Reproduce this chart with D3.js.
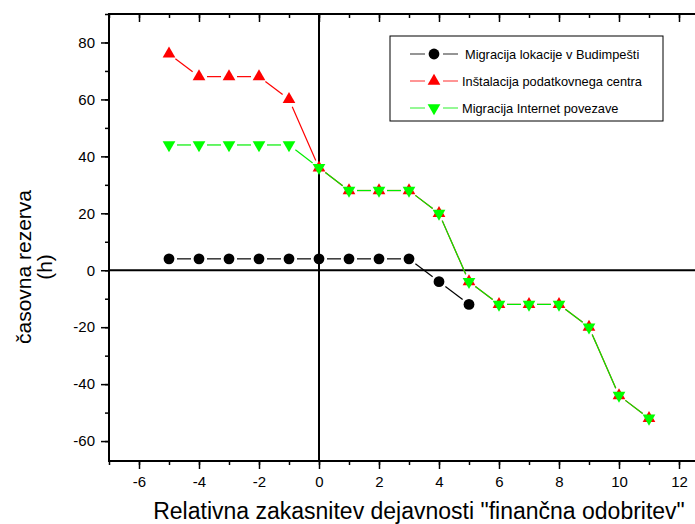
<!DOCTYPE html>
<html>
<head>
<meta charset="utf-8">
<script src="https://cdn.jsdelivr.net/npm/d3@7"></script>
<style>
  body { margin: 0; background: #fff; }
  svg text { font-family: "Liberation Sans", Arial, sans-serif; }
</style>
</head>
<body>
<div id="root"></div>
<script>
const width = 695;
const height = 524;

// data
const xBudapest = [-5, -4, -3, -2, -1, 0, 1, 2, 3, 4, 5];
const yBudapest = [4, 4, 4, 4, 4, 4, 4, 4, 4, -4, -12];
const xCenter = [-5, -4, -3, -2, -1, 0, 1, 2, 3, 4, 5, 6, 7, 8, 9, 10, 11];
const yCenter = [76, 68, 68, 68, 60, 36, 28, 28, 28, 20, -4, -12, -12, -12, -20, -44, -52];
const xInternet = [-5, -4, -3, -2, -1, 0, 1, 2, 3, 4, 5, 6, 7, 8, 9, 10, 11];
const yInternet = [44, 44, 44, 44, 44, 36, 28, 28, 28, 20, -4, -12, -12, -12, -20, -44, -52];
const xTicks = [-6, -4, -2, 0, 2, 4, 6, 8, 10, 12];
const yTicks = [-60, -40, -20, 0, 20, 40, 60, 80];
const seriesNames = ['Migracija lokacije v Budimpešti', 'Inštalacija podatkovnega centra', 'Migracija Internet povezave'];

const series = [
  { name: seriesNames[0], xs: xBudapest, ys: yBudapest, line: '#000', fill: '#000', shape: 'circle' },
  { name: seriesNames[1], xs: xCenter, ys: yCenter, line: '#ff0000', fill: '#ff0000', shape: 'up' },
  { name: seriesNames[2], xs: xInternet, ys: yInternet, line: '#00ee00', fill: '#00ff00', shape: 'down' }
];

const plotLeft = 109, plotRight = 694, plotTop = 14, plotBottom = 461;
const x = d3.scaleLinear().domain([-7, 12.5]).range([plotLeft, plotRight]);
const y = d3.scaleLinear().domain([-67, 90]).range([plotBottom, plotTop]);
const plain = (d) => String(d);

const svg = d3.select('#root').append('svg')
  .attr('width', width)
  .attr('height', height);

// zero lines
svg.append('line')
  .attr('x1', x(0)).attr('x2', x(0)).attr('y1', plotTop).attr('y2', plotBottom)
  .attr('stroke', '#000').attr('stroke-width', 2);
svg.append('line')
  .attr('x1', plotLeft).attr('x2', plotRight + 1).attr('y1', y(0)).attr('y2', y(0))
  .attr('stroke', '#000').attr('stroke-width', 2);

// axes
const xMinor = d3.range(-7, 13, 1);
const yMinor = d3.range(-60, 91, 10);

svg.append('g').attr('transform', `translate(0,${plotBottom})`)
  .call(d3.axisBottom(x).tickValues(xMinor).tickSize(4).tickFormat(''));
svg.append('g').attr('transform', `translate(0,${plotBottom})`)
  .call(d3.axisBottom(x).tickValues(xTicks).tickSize(8).tickPadding(7).tickFormat(plain));
svg.append('g').attr('transform', `translate(0,${plotTop})`)
  .call(d3.axisBottom(x).tickValues(xMinor).tickSize(4).tickFormat(''));
svg.append('g').attr('transform', `translate(0,${plotTop})`)
  .call(d3.axisBottom(x).tickValues(xTicks).tickSize(8).tickFormat(''));
svg.append('g').attr('transform', `translate(${plotLeft},0)`)
  .call(d3.axisLeft(y).tickValues(yMinor).tickSize(4).tickFormat(''));
svg.append('g').attr('transform', `translate(${plotLeft},0)`)
  .call(d3.axisLeft(y).tickValues(yTicks).tickSize(8).tickPadding(6).tickFormat(plain));

svg.selectAll('.domain').remove();
svg.selectAll('.tick line').attr('stroke', '#000').attr('stroke-width', 1.5);
svg.selectAll('.tick text').attr('font-size', '15px').attr('fill', '#000')
  .attr('font-family', '"Liberation Sans", Arial, sans-serif');

// frame lines
svg.append('line').attr('x1', plotLeft).attr('x2', plotRight + 1).attr('y1', plotTop).attr('y2', plotTop)
  .attr('stroke', '#000').attr('stroke-width', 2);
svg.append('line').attr('x1', plotLeft).attr('x2', plotRight + 1).attr('y1', plotBottom).attr('y2', plotBottom)
  .attr('stroke', '#000').attr('stroke-width', 2);
svg.append('line').attr('x1', plotLeft).attr('x2', plotLeft).attr('y1', plotTop - 1).attr('y2', plotBottom + 1)
  .attr('stroke', '#000').attr('stroke-width', 2);

// axis titles
svg.append('text')
  .attr('transform', 'translate(419,519)')
  .attr('text-anchor', 'middle')
  .attr('font-size', '23px')
  .text('Relativna zakasnitev dejavnosti "finančna odobritev"');

const yt = svg.append('text')
  .attr('transform', 'translate(31,267) rotate(-90)')
  .attr('text-anchor', 'middle')
  .attr('font-size', '21px');
yt.append('tspan').attr('x', 0).attr('dy', 0).text('časovna rezerva');
yt.append('tspan').attr('x', 0).attr('dy', 21).text('(h)');

// markers
function marker(g, shape, fill) {
  if (shape === 'circle') {
    g.append('circle').attr('r', 5.4).attr('fill', fill);
  } else {
    const sym = d3.symbol().type(d3.symbolTriangle).size(70);
    g.append('path').attr('d', sym)
      .attr('transform', shape === 'down' ? 'rotate(180)' : null)
      .attr('fill', fill);
  }
}

const gap = 8;
series.forEach((s) => {
  const pts = s.xs.map((xv, i) => [x(xv), y(s.ys[i])]);
  const g = svg.append('g');
  for (let i = 0; i < pts.length - 1; i++) {
    const [x1, y1] = pts[i];
    const [x2, y2] = pts[i + 1];
    const len = Math.hypot(x2 - x1, y2 - y1);
    const ux = (x2 - x1) / len, uy = (y2 - y1) / len;
    g.append('line')
      .attr('x1', x1 + ux * gap).attr('y1', y1 + uy * gap)
      .attr('x2', x2 - ux * gap).attr('y2', y2 - uy * gap)
      .attr('stroke', s.line).attr('stroke-width', 1.2);
  }
});
series.forEach((s) => {
  s.xs.forEach((xv, i) => {
    const m = svg.append('g').attr('transform', `translate(${x(xv)},${y(s.ys[i])})`);
    marker(m, s.shape, s.fill);
  });
});

// legend
const lg = svg.append('g').attr('transform', 'translate(390,36)');
lg.append('rect').attr('width', 273).attr('height', 85)
  .attr('fill', '#fff').attr('stroke', '#000').attr('stroke-width', 1);
series.forEach((s, i) => {
  const ly = 18 + i * 27;
  lg.append('line').attr('x1', 20).attr('x2', 35).attr('y1', ly).attr('y2', ly)
    .attr('stroke', s.line).attr('stroke-opacity', 0.7).attr('stroke-width', 1.2);
  lg.append('line').attr('x1', 53).attr('x2', 68).attr('y1', ly).attr('y2', ly)
    .attr('stroke', s.line).attr('stroke-opacity', 0.7).attr('stroke-width', 1.2);
  const m = lg.append('g').attr('transform', `translate(44,${ly})`);
  marker(m, s.shape, s.fill);
  lg.append('text').attr('x', i === 0 ? 75 : 72).attr('y', ly + 4.5)
    .attr('font-size', '12.8px').text(s.name);
});
</script>
</body>
</html>
